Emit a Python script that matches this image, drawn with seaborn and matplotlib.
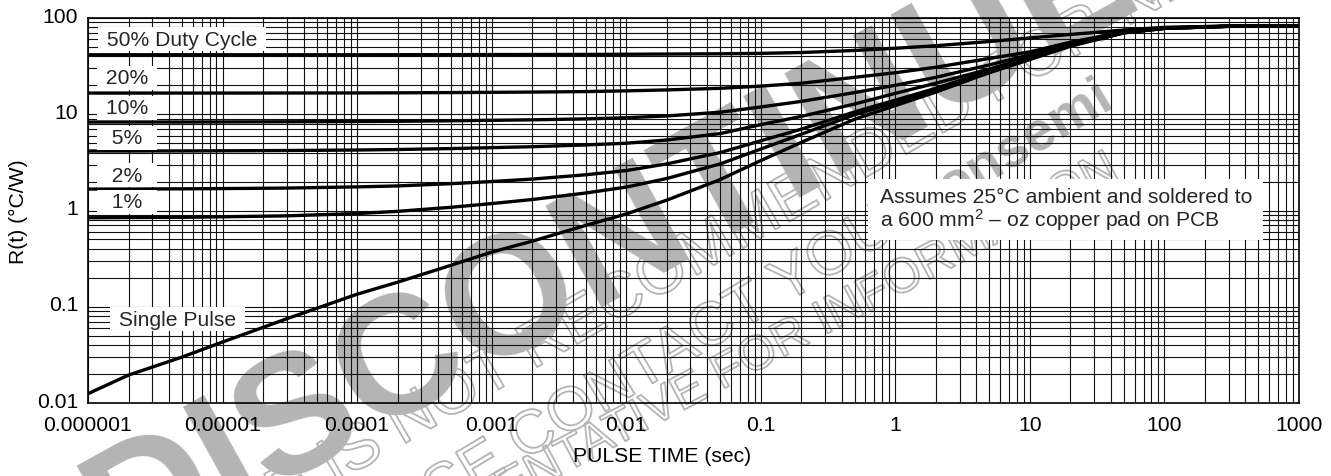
import matplotlib
matplotlib.use("Agg")
import matplotlib.pyplot as plt
import matplotlib.patheffects as pe
import matplotlib.transforms as mtransforms
from matplotlib.patches import Rectangle
from matplotlib.ticker import FixedLocator, FixedFormatter, LogLocator, NullFormatter
import pandas as pd
import seaborn as sns

# pulse time (sec)
pulse_time = [1e-6, 2e-6, 5e-6, 1e-5, 3e-5, 1e-4, 2e-4, 5e-4, 1e-3, 2e-3, 5e-3,
              1e-2, 2e-2, 5e-2, 0.1, 0.2, 0.5, 1, 2, 5, 10, 20, 50, 100, 300, 1000]

# R(t) in degC/W per curve
r_single = [0.0125, 0.0195, 0.030, 0.043, 0.075, 0.135, 0.18, 0.27, 0.37, 0.48, 0.70,
            0.92, 1.28, 2.1, 3.3, 5.1, 8.9, 12.3, 17, 27, 37, 51, 70, 78, 82, 83]
r_1pct = [0.84, 0.845, 0.85, 0.86, 0.88, 0.93, 0.98, 1.08, 1.18, 1.30, 1.52,
          1.75, 2.15, 3.05, 4.35, 6.2, 9.9, 13.2, 17.9, 27.8, 37.6, 51.5, 70.3, 78, 82, 83]
r_2pct = [1.67, 1.67, 1.68, 1.69, 1.71, 1.76, 1.80, 1.90, 2.0, 2.12, 2.35,
          2.6, 3.05, 4.0, 5.3, 7.0, 10.6, 14.0, 18.6, 28.3, 38, 51.8, 70.4, 78, 82, 83]
r_5pct = [4.15, 4.15, 4.16, 4.17, 4.2, 4.25, 4.3, 4.4, 4.5, 4.6, 4.8,
          5.0, 5.4, 6.3, 7.8, 9.5, 12.8, 16.5, 21, 29.5, 39.4, 52.6, 70.6, 78.2, 82, 83]
r_10pct = [8.3, 8.3, 8.3, 8.32, 8.35, 8.4, 8.45, 8.55, 8.65, 8.75, 8.95,
           9.2, 9.6, 10.5, 11.9, 13.6, 16.8, 20, 24.2, 32.6, 41.5, 54, 71.3, 78.5, 82, 83]
r_20pct = [16.6, 16.6, 16.6, 16.6, 16.62, 16.65, 16.7, 16.8, 16.9, 17.0, 17.2,
           17.5, 17.9, 18.6, 19.6, 21.0, 24.2, 27, 30.8, 38, 44.5, 56, 72, 79, 82.5, 83]
r_50pct = [41.5, 41.5, 41.5, 41.5, 41.5, 41.5, 41.55, 41.6, 41.7, 41.75, 41.85,
           42.0, 42.2, 42.5, 42.9, 43.8, 46, 48.5, 51.5, 57, 62, 67.5, 75, 80, 82.5, 83]

curve_names = ["Single Pulse", "1%", "2%", "5%", "10%", "20%", "50%"]
curve_values = [r_single, r_1pct, r_2pct, r_5pct, r_10pct, r_20pct, r_50pct]

x_ticks = [1e-6, 1e-5, 1e-4, 1e-3, 1e-2, 0.1, 1, 10, 100, 1000]
x_labels = ["0.000001", "0.00001", "0.0001", "0.001", "0.01", "0.1", "1", "10", "100", "1000"]
y_ticks = [0.01, 0.1, 1, 10, 100]
y_labels = ["0.01", "0.1", "1", "10", "100"]

frame = pd.concat(
    [pd.DataFrame({"t": pulse_time, "r": vals, "curve": name})
     for name, vals in zip(curve_names, curve_values)],
    ignore_index=True,
)

sns.set_theme(style="white")
plt.rcParams["font.family"] = ["Liberation Sans", "DejaVu Sans"]
plt.rcParams["mathtext.fontset"] = "custom"
plt.rcParams["mathtext.rm"] = "Liberation Sans"
plt.rcParams["mathtext.it"] = "Liberation Sans:italic"

W, H = 1331, 477
FS = 15.2
GRAY = "#b4b4b4"

fig = plt.figure(figsize=(W / 100, H / 100), dpi=100, facecolor="white")
ax = fig.add_axes([88 / W, (H - 404) / H, 1211 / W, 385 / H])
ax.patch.set_alpha(0)


# watermark (drawn behind the axes), positions in picture pixels
def px(x, y):
    return x / W, 1 - y / H


wm_kw = dict(rotation_mode="anchor", va="baseline", zorder=-5)
outline = [pe.withStroke(linewidth=1.3, foreground=GRAY)]
fig.text(*px(122, 567), "DISCONTINUED", rotation=29, fontsize=122, ha="left",
         fontweight="bold", color=GRAY, **wm_kw)
fig.text(*px(-29, 695), "THIS DEVICE IS NOT RECOMMENDED FOR NEW DESIGN", rotation=30,
         fontsize=46, ha="left", color="none", path_effects=outline, **wm_kw)
fig.text(*px(936, 214), "PLEASE CONTACT YOUR", rotation=31, ha="right",
         fontsize=44, color="none", path_effects=outline, **wm_kw)
fig.text(*px(950, 205), "onsemi", rotation=31, fontsize=40, fontweight="bold",
         ha="left", color=GRAY, **wm_kw)
fig.text(*px(1122, 178), "REPRESENTATIVE FOR INFORMATION", rotation=28, ha="right",
         fontsize=35, color="none", path_effects=outline, **wm_kw)

sns.lineplot(data=frame, x="t", y="r", hue="curve", hue_order=curve_names,
             palette=["black"] * len(curve_names), estimator=None, sort=True,
             linewidth=2.4, legend=False, ax=ax, zorder=3)

ax.set_xscale("log")
ax.set_yscale("log")
ax.set_xlim(1e-6, 1000)
ax.set_ylim(0.01, 100)

ax.xaxis.set_major_locator(FixedLocator(x_ticks))
ax.xaxis.set_major_formatter(FixedFormatter(x_labels))
ax.yaxis.set_major_locator(FixedLocator(y_ticks))
ax.yaxis.set_major_formatter(FixedFormatter(y_labels))
for axis in (ax.xaxis, ax.yaxis):
    axis.set_minor_locator(LogLocator(base=10, subs=range(2, 10), numticks=100))
    axis.set_minor_formatter(NullFormatter())

ax.grid(True, which="both", color="#111111", linewidth=0.8)
ax.set_axisbelow(True)
ax.tick_params(which="both", length=0, labelsize=FS, colors="black")
ax.tick_params(axis="x", pad=9)
ax.tick_params(axis="y", pad=7)
for lab in ax.get_yticklabels():
    lab.set_transform(lab.get_transform() +
                      mtransforms.ScaledTranslation(0, 4 / 100, fig.dpi_scale_trans))
for sp in ax.spines.values():
    sp.set_color("black")
    sp.set_linewidth(1.2)

ax.set_xlabel("PULSE TIME (sec)", fontsize=FS, color="black")
ax.xaxis.set_label_coords((662 - 88) / 1211, (404 - 457) / 385)
ax.xaxis.label.set_va("center")
ax.set_ylabel("R(t) (°C/W)", fontsize=FS, color="black")
ax.yaxis.set_label_coords((18 - 88) / 1211, 0.5)
ax.yaxis.label.set_va("center")


def axfrac(x, y):
    return (x - 88) / 1211, (404 - y) / 385


box = dict(boxstyle="square,pad=0.12", facecolor="white", edgecolor="none")
lab_kw = dict(transform=ax.transAxes, fontsize=FS, va="center", bbox=box, zorder=6)
ax.text(*axfrac(101, 40), " 50% Duty Cycle ", ha="left", **lab_kw)
ax.text(*axfrac(127, 79), " 20% ", ha="center", **lab_kw)
ax.text(*axfrac(127, 109), " 10% ", ha="center", **lab_kw)
ax.text(*axfrac(127, 139), "  5%  ", ha="center", **lab_kw)
ax.text(*axfrac(127, 176), "  2%  ", ha="center", **lab_kw)
ax.text(*axfrac(127, 203), "  1%  ", ha="center", **lab_kw)
ax.text(*axfrac(113, 320), " Single Pulse ", ha="left", **lab_kw)

x0, y1 = axfrac(868, 180)
x1, y0 = axfrac(1263, 241)
ax.add_patch(Rectangle((x0, y0), x1 - x0, y1 - y0, transform=ax.transAxes,
                       facecolor="white", edgecolor="none", zorder=5))
ax.text(*axfrac(880, 203), "Assumes 25°C ambient and soldered to", transform=ax.transAxes,
        fontsize=FS, ha="left", va="baseline", zorder=6)
ax.text(*axfrac(880, 227), "a 600 mm$^{2}$ – oz copper pad on PCB", transform=ax.transAxes,
        fontsize=FS, ha="left", va="baseline", zorder=6)

fig.savefig("out.png", dpi=100, facecolor="white")
